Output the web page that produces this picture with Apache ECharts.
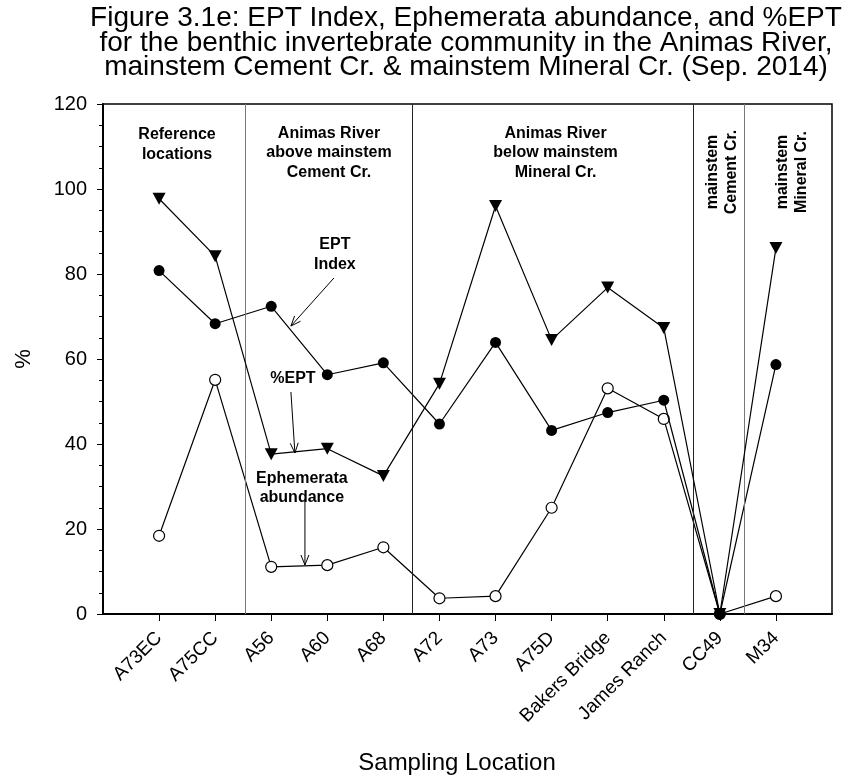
<!DOCTYPE html>
<html>
<head>
<meta charset="utf-8">
<script src="https://cdn.jsdelivr.net/npm/echarts@6/dist/echarts.min.js"></script>
<style>
  html, body { margin: 0; padding: 0; background: #fff; }
  #chart { width: 845px; height: 779px; }
</style>
</head>
<body>
<div id="chart"></div>
<script>
// Sampling locations along the x axis (placed at 1..12 on a 0..13 value axis)
const sites = ['A73EC', 'A75CC', 'A56', 'A60', 'A68', 'A72', 'A73', 'A75D',
               'Bakers Bridge', 'James Ranch', 'CC49', 'M34'];

// EPT Index (filled circles)
const eptIndex = [80.8, 68.3, 72.4, 56.3, 59.1, 44.7, 63.9, 43.2, 47.4, 50.3, 0, 58.7];
// %EPT (filled down-triangles)
const pctEPT = [97.7, 84.2, 37.6, 38.9, 32.5, 54.2, 96.0, 64.5, 76.8, 67.3, 0, 86.1];
// Ephemerata abundance (open circles)
const ephemerata = [18.4, 55.1, 11.1, 11.5, 15.7, 3.7, 4.2, 25.0, 53.1, 45.9, 0, 4.2];

// Y axis range / ticks
const yMin = 0, yMax = 120, yStep = 20;

// Vertical lines separating the site groups (x-axis units)
const groupDividers = [2.53, 5.52, 10.53, 11.43];
const dividerColors = ['#777', '#222', '#222', '#777'];

const FONT = "'Liberation Sans', Arial, Helvetica, sans-serif";

const positions = sites.map((_, i) => i + 1);
const pairs = vals => vals.map((v, i) => [positions[i], v]);

const chart = echarts.init(document.getElementById('chart'));

const lineStyle = { color: '#000', width: 1.2 };

chart.setOption({
  animation: false,
  backgroundColor: '#fff',
  grid: {
    left: 103, right: 13, top: 104, bottom: 165,
    show: true, borderColor: '#000', borderWidth: 1.5, backgroundColor: 'transparent'
  },
  xAxis: {
    type: 'value', min: 0, max: sites.length + 1, interval: 1,
    splitLine: { show: false },
    axisLine: { show: true, lineStyle: { color: '#000', width: 2 } },
    axisTick: { show: true, length: 7, lineStyle: { color: '#000', width: 1 },
                customValues: positions },
    axisLabel: {
      customValues: positions,
      formatter: v => sites[v - 1] || '',
      rotate: 45, margin: 21, color: '#000', fontSize: 19, fontFamily: FONT
    }
  },
  yAxis: {
    type: 'value', min: yMin, max: yMax, interval: yStep,
    name: '%', nameLocation: 'middle', nameGap: 68, nameRotate: 90,
    nameTextStyle: { fontSize: 22, fontFamily: FONT, color: '#000' },
    splitLine: { show: false },
    axisLine: { show: true, lineStyle: { color: '#000', width: 2 } },
    axisTick: { show: true, length: 6, lineStyle: { color: '#000', width: 1 } },
    minorTick: { show: true, splitNumber: 4, length: 4, lineStyle: { color: '#000', width: 1 } },
    axisLabel: { margin: 16, color: '#000', fontSize: 20, fontFamily: FONT }
  },
  series: [
    {
      name: 'Ephemerata abundance', type: 'line', data: pairs(ephemerata),
      symbol: 'circle', symbolSize: 11, lineStyle, z: 3,
      itemStyle: { color: '#fff', borderColor: '#000', borderWidth: 1.2 },
      markLine: {
        silent: true, symbol: 'none', label: { show: false },
        data: groupDividers.map((x, i) => ({
          xAxis: x, lineStyle: { color: dividerColors[i], width: 1, type: 'solid' }
        }))
      }
    },
    {
      name: 'EPT Index', type: 'line', data: pairs(eptIndex),
      symbol: 'circle', symbolSize: 11, lineStyle, z: 4,
      itemStyle: { color: '#000', borderColor: '#000', borderWidth: 0 }
    },
    {
      name: '%EPT', type: 'line', data: pairs(pctEPT),
      symbol: 'triangle', symbolRotate: 180, symbolSize: [13, 12], lineStyle, z: 5,
      itemStyle: { color: '#000', borderColor: '#000', borderWidth: 0 }
    }
  ]
});

// Annotation text placed in data coordinates [x, y]
const groupLabels = [
  { text: 'Reference\nlocations', at: [1.32, 110.5] },
  { text: 'Animas River\nabove mainstem\nCement Cr.', at: [4.03, 108.5] },
  { text: 'Animas River\nbelow mainstem\nMineral Cr.', at: [8.07, 108.5] },
  { text: 'mainstem\nCement Cr.', at: [11.04, 104.0], rotate: true },
  { text: 'mainstem\nMineral Cr.', at: [12.29, 104.0], rotate: true },
  { text: 'EPT\nIndex', at: [4.135, 84.6] },
  { text: '%EPT', at: [3.387, 55.5] },
  { text: 'Ephemerata\nabundance', at: [3.547, 29.6] }
];

// Pointer arrows (from label to series line), data coordinates
const pointers = [
  { from: [4.118, 79.06], to: [3.351, 67.76] },
  { from: [3.351, 52.24], to: [3.422, 37.88] },
  { from: [3.601, 26.59], to: [3.601, 11.53] }
];

const px = p => chart.convertToPixel({ gridIndex: 0 }, p);

const graphics = [];

// Title
graphics.push({
  type: 'text', x: 466, y: 43,
  style: {
    text: 'Figure 3.1e: EPT Index, Ephemerata abundance, and %EPT\n' +
          'for the benthic invertebrate community in the Animas River,\n' +
          'mainstem Cement Cr. & mainstem Mineral Cr. (Sep. 2014)',
    fill: '#000', fontFamily: FONT, fontSize: 28, lineHeight: 24.5,
    align: 'center', verticalAlign: 'middle'
  }
});

// X axis title
graphics.push({
  type: 'text', x: 457, y: 763,
  style: {
    text: 'Sampling Location', fill: '#000', fontFamily: FONT, fontSize: 24,
    align: 'center', verticalAlign: 'middle'
  }
});

groupLabels.forEach(l => {
  const [x, y] = px(l.at);
  graphics.push({
    type: 'text', x, y, rotation: l.rotate ? Math.PI / 2 : 0,
    style: {
      text: l.text, fill: '#000', fontFamily: FONT, fontSize: 16, fontWeight: 'bold',
      lineHeight: 19.5, align: 'center', verticalAlign: 'middle'
    }
  });
});

pointers.forEach(a => {
  const s = px(a.from), t = px(a.to);
  const dx = t[0] - s[0], dy = t[1] - s[1];
  const len = Math.hypot(dx, dy);
  const ux = dx / len, uy = dy / len;
  const L = 10, W = 4;
  const bx = t[0] - L * ux, by = t[1] - L * uy;
  graphics.push({
    type: 'polyline', shape: { points: [s, t] },
    style: { stroke: '#000', lineWidth: 1, fill: null }
  });
  graphics.push({
    type: 'polyline',
    shape: { points: [[bx - W * uy, by + W * ux], t, [bx + W * uy, by - W * ux]] },
    style: { stroke: '#000', lineWidth: 1, fill: null }
  });
});

chart.setOption({ graphic: graphics });
</script>
</body>
</html>
